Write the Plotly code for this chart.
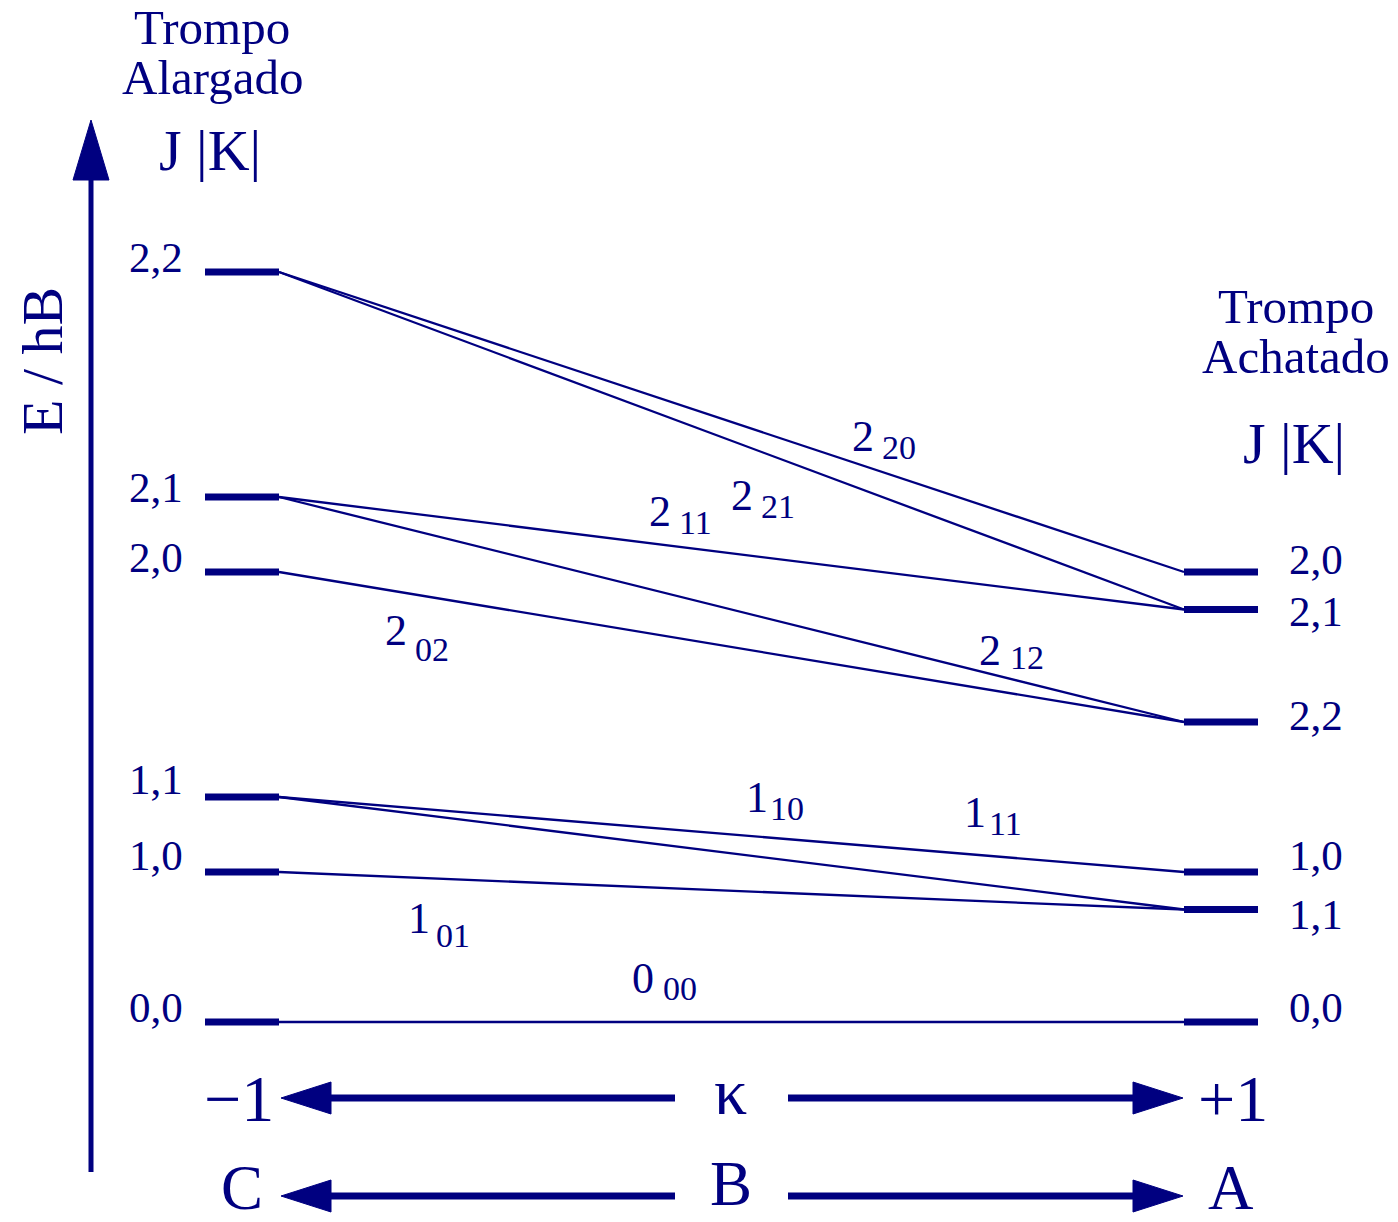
import plotly.graph_objects as go

# ---------------- data ----------------
# Energies in units of B (prolate: J(J+1)+K^2 ; oblate: J(J+1)-K^2/2)
prolate_labels = ["0,0", "1,0", "1,1", "2,0", "2,1", "2,2"]
prolate_E = [0, 2, 3, 6, 7, 10]
oblate_labels = ["0,0", "1,1", "1,0", "2,2", "2,1", "2,0"]
oblate_E = [0, 1.5, 2, 4, 5.5, 6]

# correlation lines: asymmetric-top state J_{Ka Kc}
corr_J = ["0", "1", "1", "1", "2", "2", "2", "2", "2"]
corr_sub = ["00", "01", "11", "10", "02", "12", "11", "21", "20"]
corr_left_E = [0, 2, 3, 3, 6, 7, 7, 10, 10]
corr_right_E = [0, 1.5, 1.5, 2, 4, 4, 5.5, 5.5, 6]

axis_left_text = ["\u22121", "C"]
axis_mid_text = ["\u03ba", "B"]
axis_right_text = ["+1", "A"]

# ---------------- layout helpers ----------------
W, H = 1398, 1222
Y0, SCALE = 1022, 75.0


def py(p):
    """pixel row -> energy coordinate"""
    return (Y0 - p) / SCALE


NAVY = "#000080"
FONT = "Liberation Serif"

XL0, XL1 = 205, 279      # left level bars
XR0, XR1 = 1184, 1258    # right level bars

fig = go.Figure()

# correlation lines
for le, re_ in zip(corr_left_E, corr_right_E):
    fig.add_trace(go.Scatter(x=[XL1, XR0], y=[le, re_], mode="lines",
                             line=dict(color=NAVY, width=2.3),
                             hoverinfo="skip", showlegend=False))

# level bars
for e in prolate_E:
    fig.add_trace(go.Scatter(x=[XL0, XL1], y=[e, e], mode="lines",
                             line=dict(color=NAVY, width=7),
                             hoverinfo="skip", showlegend=False))
for e in oblate_E:
    fig.add_trace(go.Scatter(x=[XR0, XR1], y=[e, e], mode="lines",
                             line=dict(color=NAVY, width=7),
                             hoverinfo="skip", showlegend=False))

ann = []


def txt(x, y_px, s, size, angle=0):
    ann.append(dict(x=x, y=py(y_px), xref="x", yref="y", text=s, showarrow=False,
                    xanchor="center", yanchor="middle", textangle=angle, borderpad=0,
                    font=dict(family=FONT, size=size, color=NAVY)))


# level labels (left)
left_label_dy = [-15, -17, -18, -15, -10, -15]
for lab, e, dy in zip(prolate_labels, prolate_E, left_label_dy):
    txt(156, Y0 - e * SCALE + dy, lab, 43)
# level labels (right)
right_label_dy = [-15, 5, -17, -7, 2, -13]
for lab, e, dy in zip(oblate_labels, oblate_E, right_label_dy):
    txt(1316, Y0 - e * SCALE + dy, lab, 43)

# correlation labels: main digit position and subscript position (pixels)
main_pos = [(643, 978), (419, 918), (975, 812), (757, 797), (396, 630),
            (990, 650), (660, 511), (742, 495), (863, 436)]
sub_pos = [(680, 988), (453, 935), (1005, 823), (787, 808), (432, 649),
           (1027, 657), (695, 522), (778, 506), (899, 447)]
for j, s, (mx, my), (sx, sy) in zip(corr_J, corr_sub, main_pos, sub_pos):
    txt(mx, my, j, 44)
    txt(sx, sy, s, 34)

# headers
txt(212, 27, "Trompo", 49)
txt(212, 77, "Alargado", 49)
txt(210, 150, "J |K|", 58)
txt(1296, 306, "Trompo", 49)
txt(1296, 356, "Achatado", 49)
txt(1294, 443, "J |K|", 58)

# axis title
txt(42, 361, "E / hB", 58, angle=-90)

# bottom rows
txt(239, 1098, axis_left_text[0], 66)
txt(730, 1091, axis_mid_text[0], 66)
txt(1233, 1098, axis_right_text[0], 66)
txt(242, 1188, axis_left_text[1], 63)
txt(731, 1184, axis_mid_text[1], 63)
txt(1231, 1188, axis_right_text[1], 63)

shapes = []


def seg(x0, y0, x1, y1, w):
    shapes.append(dict(type="line", xref="x", yref="y", x0=x0, y0=py(y0), x1=x1, y1=py(y1),
                       line=dict(color=NAVY, width=w)))


def tri(pts):
    path = "M " + " L ".join(f"{x},{py(y)}" for x, y in pts) + " Z"
    shapes.append(dict(type="path", xref="x", yref="y", path=path,
                       fillcolor=NAVY, line=dict(color=NAVY, width=1)))


# vertical energy arrow
seg(91, 1172, 91, 175, 5)
tri([(91, 120), (73, 180), (109, 180)])

# horizontal arrows
for yc in (1098, 1196):
    seg(325, yc, 675, yc, 7)
    tri([(281, yc), (331, yc - 16), (331, yc + 16)])
    seg(788, yc, 1137, yc, 7)
    tri([(1183, yc), (1133, yc - 16), (1133, yc + 16)])

fig.update_layout(
    width=W, height=H,
    margin=dict(l=0, r=0, t=0, b=0),
    paper_bgcolor="white", plot_bgcolor="white",
    xaxis=dict(range=[0, W], visible=False, fixedrange=True),
    yaxis=dict(range=[py(H), py(0)], visible=False, fixedrange=True),
    annotations=ann, shapes=shapes, showlegend=False,
)

fig.write_html("out.html")
